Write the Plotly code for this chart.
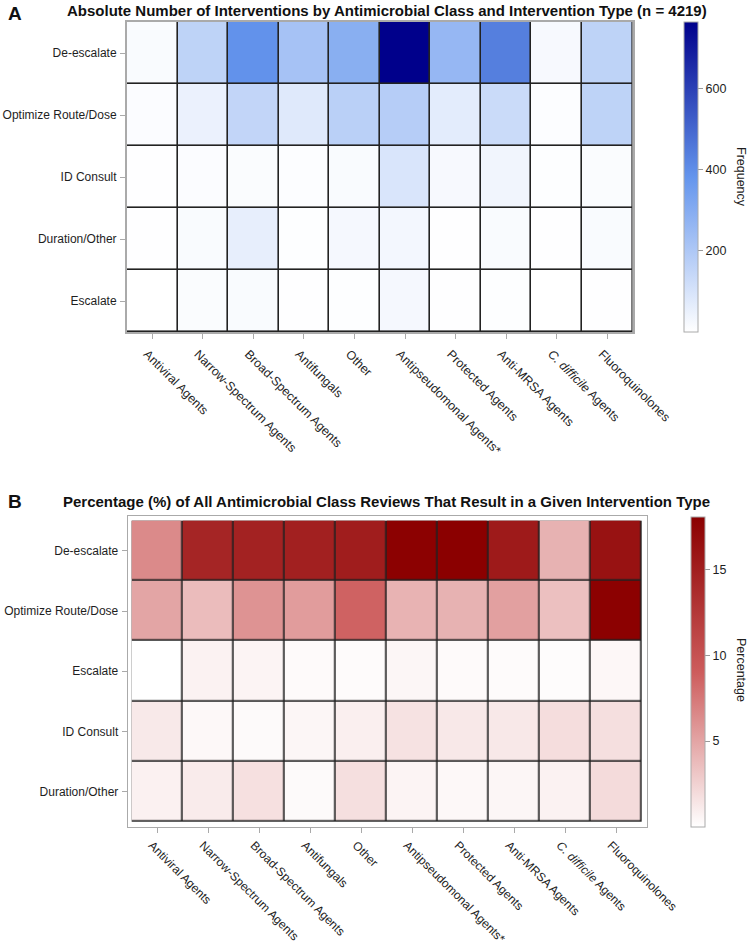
import plotly.graph_objects as go

classes = ["Antiviral Agents", "Narrow-Spectrum Agents", "Broad-Spectrum Agents", "Antifungals",
           "Other", "Antipseudomonal Agents*", "Protected Agents", "Anti-MRSA Agents",
           "<i>C. difficile</i> Agents", "Fluoroquinolones"]

# Panel A: absolute counts (rows top to bottom)
rows_a = ["De-escalate", "Optimize Route/Dose", "ID Consult", "Duration/Other", "Escalate"]
a_deescalate = [15, 160, 390, 220, 290, 765, 260, 440, 20, 160]
a_optimize = [10, 50, 150, 80, 170, 180, 70, 130, 8, 160]
a_idconsult = [3, 10, 12, 8, 15, 95, 20, 35, 5, 12]
a_duration = [2, 15, 60, 5, 25, 30, 3, 15, 2, 15]
a_escalate = [0, 12, 15, 3, 4, 25, 3, 4, 1, 3]

# Panel B: percentages (rows top to bottom)
rows_b = ["De-escalate", "Optimize Route/Dose", "Escalate", "ID Consult", "Duration/Other"]
b_deescalate = [6.5, 14.5, 14.8, 15.0, 15.2, 18.0, 18.1, 15.5, 4.3, 16.3]
b_optimize = [5.0, 3.7, 6.0, 5.5, 8.7, 4.2, 4.3, 5.3, 3.5, 18.0]
b_escalate = [0.0, 0.7, 0.6, 0.25, 0.2, 0.5, 0.25, 0.2, 0.15, 0.45]
b_idconsult = [1.2, 0.4, 0.3, 0.5, 0.9, 1.6, 1.3, 1.3, 1.9, 1.8]
b_duration = [0.8, 1.1, 1.7, 0.3, 1.8, 0.6, 0.4, 0.5, 0.7, 2.0]

za = [a_deescalate, a_optimize, a_idconsult, a_duration, a_escalate]
zb = [b_deescalate, b_optimize, b_escalate, b_idconsult, b_duration]

idx = list(range(len(classes)))
LABEL_SHIFT = -0.10  # labels start slightly left of their tick (SAS style)

W, H = 750, 946
def px(v): return v / W
def py(v): return 1 - v / H

FONT = "Liberation Sans, Arial, sans-serif"
TXT = "#1e1e1e"
blues = [[0, "#ffffff"], [0.5, "#6495ED"], [1, "#00008B"]]
reds = [[0, "#ffffff"], [0.5, "#CD5C5C"], [1, "#8B0000"]]
black = [[0, "#222222"], [1, "#222222"]]

def cbar(tvals, xl, yc):
    return dict(x=px(xl), xanchor="left", xpad=0, ypad=0,
                y=py(yc), yanchor="middle", lenmode="pixels", len=310,
                thicknessmode="pixels", thickness=14,
                outlinecolor="#aaaaaa", outlinewidth=1,
                tickmode="array", tickvals=tvals,
                ticks="outside", ticklen=5, tickcolor="#999",
                tickfont=dict(size=12.5, family=FONT, color=TXT))

fig = go.Figure()

fig.add_trace(go.Heatmap(z=[[0] * len(classes) for _ in rows_a], y=rows_a,
                         colorscale=black, showscale=False, hoverinfo="skip",
                         xaxis="x", yaxis="y"))
fig.add_trace(go.Heatmap(z=za, y=rows_a, colorscale=blues, xgap=1.6, ygap=1.6,
                         customdata=[classes] * len(rows_a),
                         hovertemplate="%{customdata}<br>%{y}: %{z}<extra></extra>",
                         xaxis="x", yaxis="y", colorbar=cbar([200, 400, 600], 684, 177)))

fig.add_trace(go.Heatmap(z=[[0] * len(classes) for _ in rows_b], y=rows_b,
                         colorscale=black, showscale=False, hoverinfo="skip",
                         xaxis="x2", yaxis="y2"))
fig.add_trace(go.Heatmap(z=zb, y=rows_b, colorscale=reds, xgap=1.6, ygap=1.6,
                         customdata=[classes] * len(rows_b),
                         hovertemplate="%{customdata}<br>%{y}: %{z}%<extra></extra>",
                         xaxis="x2", yaxis="y2", colorbar=cbar([5, 10, 15], 691, 671.7)))

def xaxis(domain, anchor, rng, lw, fs, so):
    return dict(domain=domain, anchor=anchor, type="linear", range=rng,
                showgrid=False, zeroline=False, showline=True, mirror=True,
                linecolor="#aaaaaa", linewidth=lw,
                tickmode="array", tickvals=[i + LABEL_SHIFT for i in idx], ticktext=classes,
                ticks="", tickangle=45, ticklabelstandoff=so,
                tickfont=dict(size=fs, family=FONT, color=TXT),
                minor=dict(tickmode="array", tickvals=idx, ticks="outside", ticklen=5,
                           tickcolor="#aaaaaa", showgrid=False))

def yaxis(domain, anchor, rng, lw):
    return dict(domain=domain, anchor=anchor, range=rng, ticks="outside", ticklen=5,
                showgrid=False, zeroline=False, showline=True, mirror=True,
                linecolor="#aaaaaa", linewidth=lw,
                tickcolor="#aaaaaa", ticklabelstandoff=1,
                tickfont=dict(size=12, family=FONT, color=TXT))

fig.update_layout(
    width=W, height=H, margin=dict(l=0, r=0, t=0, b=0, autoexpand=False),
    paper_bgcolor="white", plot_bgcolor="white",
    xaxis=xaxis([px(127), px(632.5)], "y", [-0.5, 9.5], 2, 12.4, 8),
    yaxis=yaxis([py(332), py(22)], "x", [4.5, -0.5], 2),
    xaxis2=xaxis([px(127.7), px(646.7)], "y2", [-0.578, 9.598], 1, 12, 6),
    yaxis2=yaxis([py(826.7), py(516)], "x2", [4.583, -0.578], 1),
    annotations=[
        dict(text="<b>A</b>", x=px(6), y=py(13), xref="paper", yref="paper", xanchor="left",
             yanchor="middle", showarrow=False, font=dict(size=19, family=FONT, color="#111")),
        dict(text="<b>Absolute Number of Interventions by Antimicrobial Class and Intervention Type (n = 4219)</b>",
             x=px(386.5), y=py(10), xref="paper", yref="paper", xanchor="center", yanchor="middle",
             showarrow=False,
             font=dict(size=15, family="Liberation Sans Narrow, Arial Narrow, sans-serif", color="#111")),
        dict(text="<b>B</b>", x=px(6), y=py(501), xref="paper", yref="paper", xanchor="left",
             yanchor="middle", showarrow=False, font=dict(size=19, family=FONT, color="#111")),
        dict(text="<b>Percentage (%) of All Antimicrobial Class Reviews That Result in a Given Intervention Type</b>",
             x=px(386.5), y=py(501.5), xref="paper", yref="paper", xanchor="center", yanchor="middle",
             showarrow=False, font=dict(size=15, family=FONT, color="#111")),
        dict(text="Frequency", x=px(741), y=py(177), xref="paper", yref="paper", textangle=90,
             xanchor="center", yanchor="middle", showarrow=False,
             font=dict(size=12.5, family=FONT, color=TXT)),
        dict(text="Percentage", x=px(741), y=py(670), xref="paper", yref="paper", textangle=90,
             xanchor="center", yanchor="middle", showarrow=False,
             font=dict(size=12.5, family=FONT, color=TXT)),
    ],
)

fig.write_html("out.html", config={"displayModeBar": False},
               post_script="document.body.style.margin='0px';document.body.style.padding='0px';")
